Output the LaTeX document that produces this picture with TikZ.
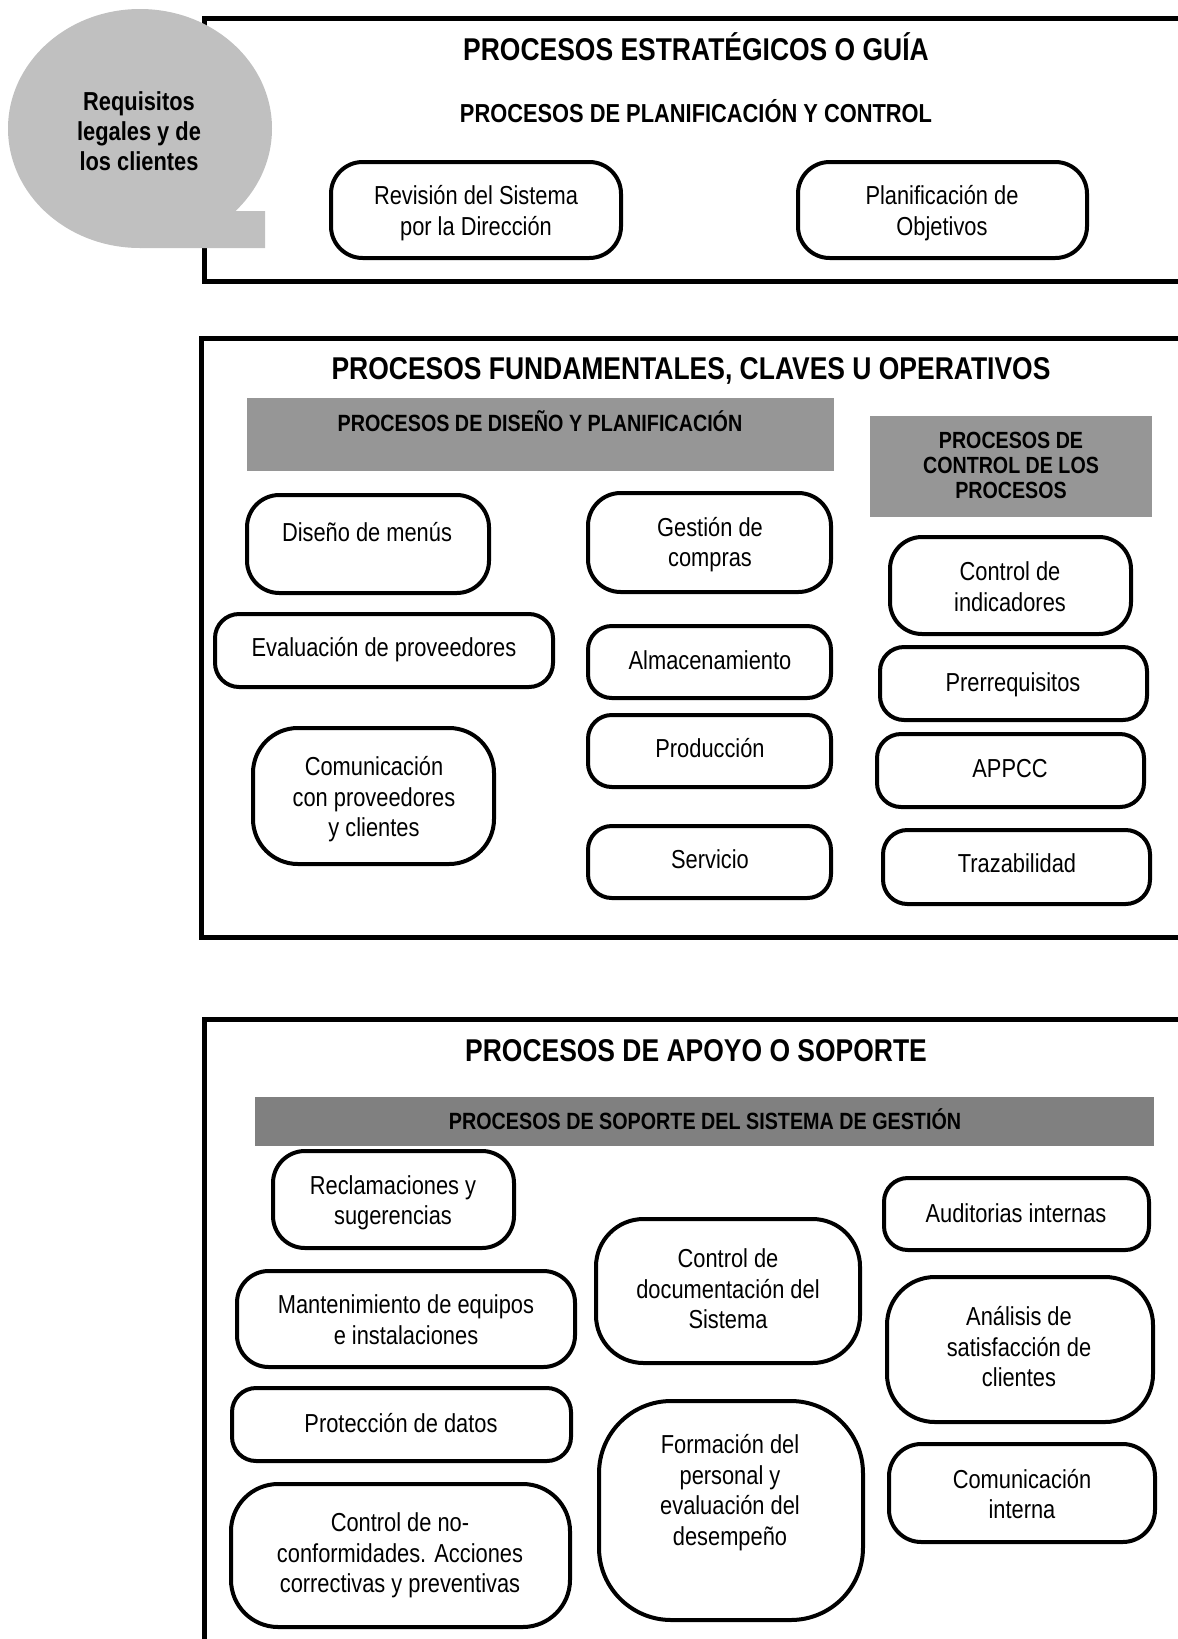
\documentclass[tikz,border=0pt]{standalone}
\usepackage{fontspec}
\setmainfont{Liberation Sans}[FakeStretch=0.84]
\definecolor{bubblegray}{HTML}{C0C0C0}
\definecolor{bargray}{HTML}{969696}
\definecolor{bardark}{HTML}{808080}
\tikzset{
  frame/.style={line width=5pt, draw=black},
  pbox/.style={draw=black, line width=4pt, inner sep=0pt, fill=white},
  struts/.style={inner sep=0pt, align=center,
     execute at begin node={\rule{0pt}{0.95em}},
     execute at end node={\rule[-0.25em]{0pt}{0.25em}}},
  ptext/.style={struts, font=\fontsize{26}{30.5}\selectfont},
  ttext/.style={struts, font=\bfseries\fontsize{31.5}{36}\selectfont},
  stext/.style={struts, font=\bfseries\fontsize{23.5}{25}\selectfont},
  s1text/.style={struts, font=\bfseries\fontsize{26}{30}\selectfont},
  ctext/.style={struts, font=\bfseries\fontsize{23.4}{25}\selectfont},
  btext/.style={struts, font=\bfseries\fontsize{26}{30}\selectfont},
  bar/.style={inner sep=0pt, anchor=north west},
}
\newcommand\pb[8]{%
  \pgfmathsetmacro\pbw{#4-#2}%
  \pgfmathsetmacro\pbh{#5-#3}%
  \pgfmathsetmacro\pbr{min(0.33*\pbh,0.5*\pbw)}%
  \node[pbox, minimum width=\pbw pt, minimum height=\pbh pt, rounded corners=\pbr pt] (#1) at ({(#2+#4)/2},{(#3+#5)/2}) {};
  \node[ptext] (#1t) at (#6,#7) {#8};
}
\newcommand\gbar[6]{%
  \pgfmathsetmacro\gbw{#4-#2}%
  \pgfmathsetmacro\gbh{#5-#3}%
  \node[bar, fill=#6, minimum width=\gbw pt, minimum height=\gbh pt] (#1) at (#2,#3) {};
}
\begin{document}
\begin{tikzpicture}[x=1pt,y=-1pt]
\useasboundingbox (0,0) rectangle (1178,1639);
% frames
\draw[frame] (1200,18) -- (204,18) -- (204,281) -- (1200,281);
\draw[frame] (1200,338) -- (201,338) -- (201,937) -- (1200,937);
\draw[frame] (1200,1019) -- (204,1019) -- (204,1660);
% bubble
\fill[bubblegray] (140,128.5) ellipse [x radius=132, y radius=119.5];
\fill[bubblegray] (140,248) -- (265,248) -- (265,211) -- (236,211) -- (140,128) -- cycle;
\node[btext] (req) at (139,134) {Requisitos\\legales y de\\los clientes};
% top section
\node[ttext] (t1) at (696,49) {PROCESOS ESTRATÉGICOS O GUÍA};
\node[s1text] (s1) at (696,113) {PROCESOS DE PLANIFICACIÓN Y CONTROL};
\pb{rev}{331}{162}{621}{258}{476}{213.5}{Revisión del Sistema\\por la Dirección}
\pb{plan}{798}{162}{1087}{258}{942}{213.5}{Planificación de\\Objetivos}
% middle section
\node[ttext] (t2) at (691,368) {PROCESOS FUNDAMENTALES, CLAVES U OPERATIVOS};
\gbar{bar1}{247}{398}{834}{471}{bargray}
\node[stext] (s2) at (540,423) {PROCESOS DE DISEÑO Y PLANIFICACIÓN};
\gbar{bar2}{870}{416}{1152}{517}{bargray}
\node[ctext] (s3) at (1011,468) {PROCESOS DE\\CONTROL DE LOS\\PROCESOS};
\pb{dis}{247}{495}{489}{593}{367}{532}{Diseño de menús}
\pb{eval}{215}{614}{553}{687}{384}{647}{Evaluación de proveedores}
\pb{comu}{253}{728}{494}{864}{374}{800}{Comunicación\\con proveedores\\y clientes}
\pb{gest}{588}{493}{831}{592}{710}{545}{Gestión de\\compras}
\pb{alm}{588}{626}{831}{698}{710}{660}{Almacenamiento}
\pb{prod}{588}{715}{831}{787}{710}{748}{Producción}
\pb{serv}{588}{826}{831}{898}{710}{859}{Servicio}
\pb{ctrl}{890}{537}{1131}{634}{1010}{590}{Control de\\indicadores}
\pb{prer}{880}{647}{1147}{720}{1013}{682}{Prerrequisitos}
\pb{appcc}{877}{734}{1144}{807}{1010}{768}{APPCC}
\pb{traz}{883}{830}{1150}{904}{1017}{863}{Trazabilidad}
% bottom section
\node[ttext] (t3) at (696,1050) {PROCESOS DE APOYO O SOPORTE};
\gbar{bar3}{255}{1097}{1154}{1146}{bardark}
\node[stext] (s4) at (705,1121) {PROCESOS DE SOPORTE DEL SISTEMA DE GESTIÓN};
\pb{recl}{273}{1151}{514}{1248}{393}{1203.5}{Reclamaciones y\\sugerencias}
\pb{mant}{237}{1271}{575}{1367}{406}{1323}{Mantenimiento de equipos\\e instalaciones}
\pb{prot}{232}{1388}{571}{1461}{401}{1423}{Protección de datos}
\pb{noconf}{231}{1484}{570}{1627}{400}{1556}{Control de no-\\conformidades. Acciones\\correctivas y preventivas}
\pb{doc}{596}{1219}{860}{1363}{728}{1292}{Control de\\documentación del\\Sistema}
\pb{form}{599}{1401}{863}{1620}{730}{1493}{Formación del\\personal y\\evaluación del\\desempeño}
\pb{aud}{884}{1178}{1149}{1250}{1016}{1213}{Auditorias internas}
\pb{anal}{887}{1277}{1153}{1422}{1019}{1350}{Análisis de\\satisfacción de\\clientes}
\pb{comi}{889}{1444}{1155}{1542}{1022}{1497}{Comunicación\\interna}
\end{tikzpicture}
\end{document}
